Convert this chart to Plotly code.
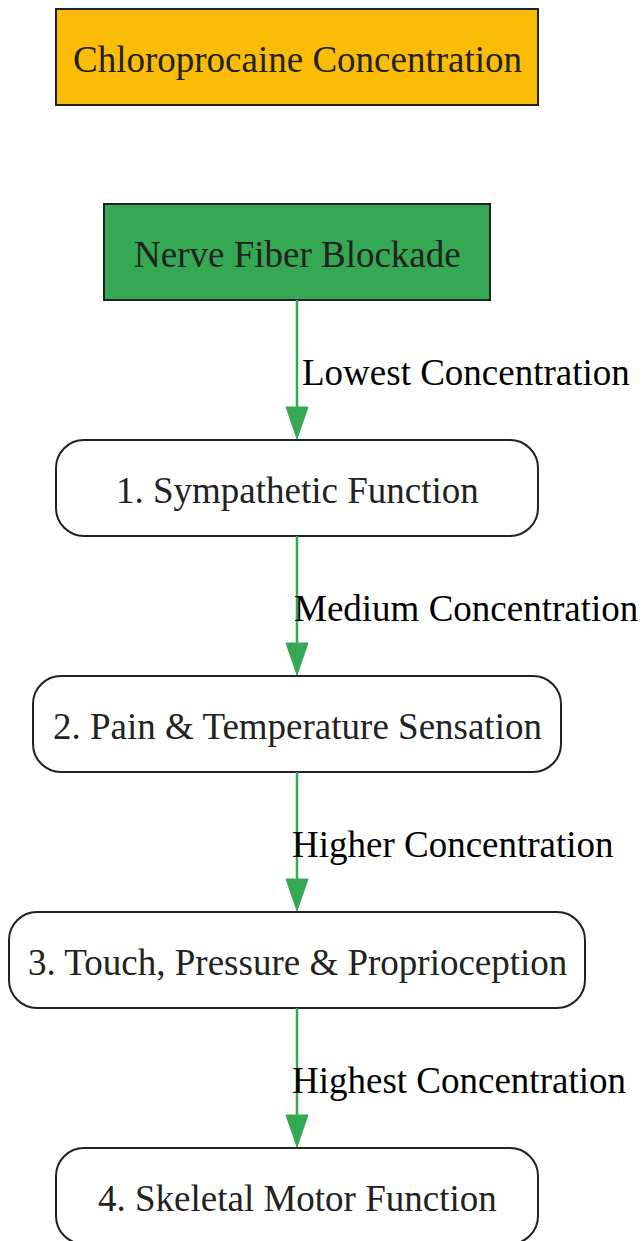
import plotly.graph_objects as go

# ---- data ----
node_labels = [
    "Chloroprocaine Concentration",
    "Nerve Fiber Blockade",
    "1. Sympathetic Function",
    "2. Pain & Temperature Sensation",
    "3. Touch, Pressure & Proprioception",
    "4. Skeletal Motor Function",
]
node_kinds = ["rect", "rect", "round", "round", "round", "round"]
edge_pairs = [(1, 2), (2, 3), (3, 4), (4, 5)]
edge_labels = [
    "Lowest Concentration",
    "Medium Concentration",
    "Higher Concentration",
    "Highest Concentration",
]

# ---- layout geometry (pixels) ----
W, H = 644, 1241
CX = 297
node_tops = [9, 204, 440, 676, 912, 1148]
node_widths = [482, 386, 482, 528, 576, 482]
NODE_H = 96
RADIUS = 28
node_fills = ["#FBBC05", "#34A853", "#FFFFFF", "#FFFFFF", "#FFFFFF", "#FFFFFF"]
label_left = [300, 292, 290, 290]
label_y_offset = -68  # relative to target node top
EDGE_COLOR = "#34A853"
BORDER = "#222222"
FONT = "Liberation Serif"
FS = 37

fig = go.Figure()
shapes = []
annotations = []


def rounded_path(x0, y0, x1, y1, r):
    k = r * 0.4477  # distance of control point from corner for circular arc
    return (f"M {x0 + r},{y0} L {x1 - r},{y0} C {x1 - k},{y0} {x1},{y0 + k} {x1},{y0 + r} "
            f"L {x1},{y1 - r} C {x1},{y1 - k} {x1 - k},{y1} {x1 - r},{y1} L {x0 + r},{y1} "
            f"C {x0 + k},{y1} {x0},{y1 - k} {x0},{y1 - r} L {x0},{y0 + r} "
            f"C {x0},{y0 + k} {x0 + k},{y0} {x0 + r},{y0} Z")


for i, label in enumerate(node_labels):
    x0 = CX - node_widths[i] / 2
    x1 = CX + node_widths[i] / 2
    y0 = node_tops[i]
    y1 = y0 + NODE_H
    if node_kinds[i] == "rect":
        shapes.append(dict(type="rect", xref="x", yref="y", x0=x0, x1=x1, y0=y0, y1=y1,
                           fillcolor=node_fills[i], line=dict(color=BORDER, width=2),
                           layer="below"))
    else:
        shapes.append(dict(type="path", xref="x", yref="y",
                           path=rounded_path(x0, y0, x1, y1, RADIUS),
                           fillcolor=node_fills[i], line=dict(color=BORDER, width=2),
                           layer="below"))
    annotations.append(dict(x=CX, y=y0 + NODE_H / 2 + 2, xref="x", yref="y", text=label,
                            showarrow=False, xanchor="center", yanchor="middle",
                            font=dict(family=FONT, size=FS, color="#222222")))

for k, (a, b) in enumerate(edge_pairs):
    ys = node_tops[a] + NODE_H
    ye = node_tops[b]
    tip = ye - 1
    head_len = 32
    hw = 11
    shapes.append(dict(type="line", xref="x", yref="y", x0=CX, x1=CX, y0=ys, y1=tip - head_len + 2,
                       line=dict(color=EDGE_COLOR, width=2.5)))
    shapes.append(dict(type="path", xref="x", yref="y",
                       path=f"M {CX - hw},{tip - head_len} L {CX + hw},{tip - head_len} L {CX},{tip} Z",
                       fillcolor=EDGE_COLOR, line=dict(color=EDGE_COLOR, width=1)))
    annotations.append(dict(x=label_left[k], y=ye + label_y_offset, xref="x", yref="y",
                            text=edge_labels[k], showarrow=False, xanchor="left", yanchor="middle",
                            font=dict(family=FONT, size=FS, color="#000000")))

fig.update_layout(
    width=W, height=H,
    margin=dict(l=0, r=0, t=0, b=0),
    paper_bgcolor="white", plot_bgcolor="white",
    xaxis=dict(range=[0, W], visible=False, fixedrange=True),
    yaxis=dict(range=[H, 0], visible=False, fixedrange=True),
    shapes=shapes, annotations=annotations, showlegend=False,
)
fig.write_html("out.html", config={"displayModeBar": False},
               post_script="document.body.style.margin='0';document.body.style.overflow='hidden';")
